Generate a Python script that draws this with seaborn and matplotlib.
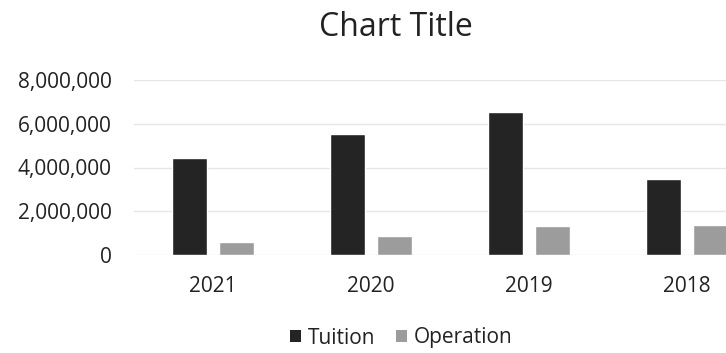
import matplotlib
matplotlib.use("Agg")
import matplotlib.pyplot as plt
import seaborn as sns
import pandas as pd
from matplotlib.ticker import FuncFormatter
from matplotlib.patches import Patch

years = ["2021", "2020", "2019", "2018"]
tuition = [4430000, 5550000, 6520000, 3470000]
operation = [600000, 870000, 1330000, 1390000]
series_names = ["Tuition", "Operation"]
yticks = [0, 2000000, 4000000, 6000000, 8000000]

df = pd.DataFrame({
    "Year": years * 2,
    "Value": tuition + operation,
    "Series": [series_names[0]] * len(years) + [series_names[1]] * len(years),
})

sns.set_theme(style="white")
plt.rcParams["font.family"] = ["Open Sans", "DejaVu Sans"]

fig = plt.figure(figsize=(7.26, 3.53), dpi=100)
ax = fig.add_axes([134 / 726, 98 / 353, 632 / 726, 175 / 353])

palette = {"Tuition": "#242424", "Operation": "#9c9c9c"}
sns.barplot(data=df, x="Year", y="Value", hue="Series", order=years,
            hue_order=series_names, palette=palette, width=0.583, gap=0.24,
            ax=ax, legend=False, saturation=1)

ax.set_ylim(0, 8000000)
ax.set_xlim(-0.5, 3.5)
ax.set_yticks(yticks)
ax.yaxis.set_major_formatter(FuncFormatter(lambda v, p: f"{int(v):,}"))
ax.yaxis.grid(True, color="#e6e6e6", linewidth=1)
ax.set_axisbelow(True)
for s in ax.spines.values():
    s.set_visible(False)
ax.tick_params(axis="y", length=0, pad=16, labelsize=15, labelcolor="#222222")
ax.tick_params(axis="x", length=0, pad=15, labelsize=15, labelcolor="#222222")
ax.set_xlabel("")
ax.set_ylabel("")

fig.text(396 / 726, 1 - 28 / 353, "Chart Title", ha="center", va="center",
         fontsize=23, color="#222222")

handles = [Patch(facecolor=palette[n], edgecolor="none") for n in series_names]
fig.legend(handles, series_names, loc="center", bbox_to_anchor=(401 / 726, 1 - 338 / 353),
           ncol=2, frameon=False, fontsize=15, handlelength=0.55, handleheight=0.55,
           handletextpad=0.3, columnspacing=1.0, labelcolor="#222222")

fig.savefig("out.png", dpi=100)
